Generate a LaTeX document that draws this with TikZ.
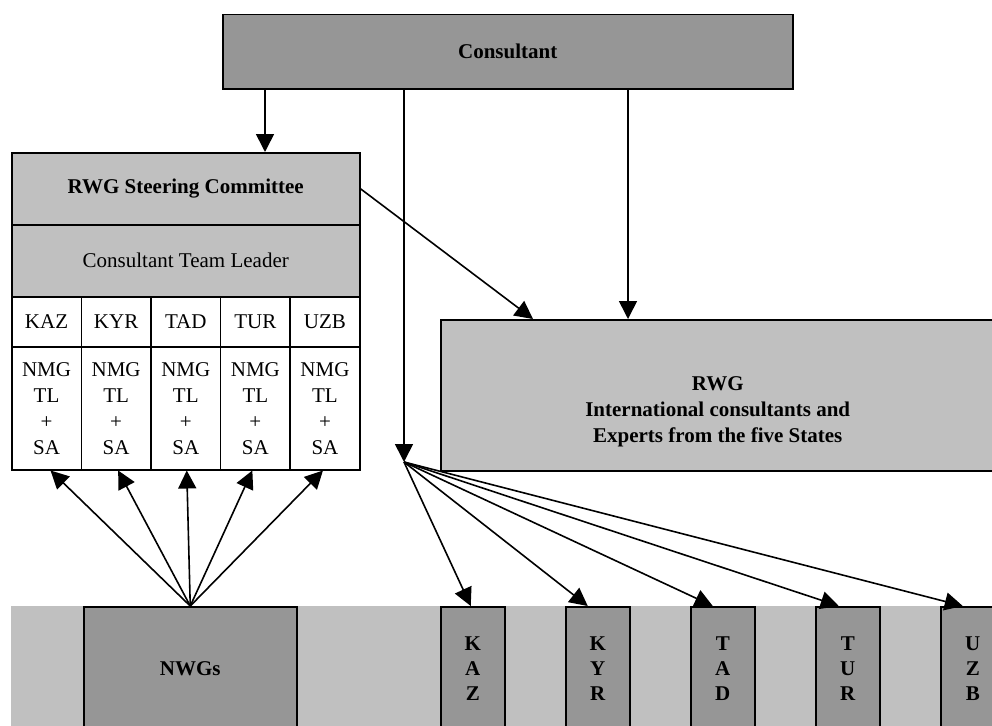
\documentclass[tikz,border=0pt]{standalone}
\usepackage{fontspec}
\setmainfont{Liberation Serif}
\usetikzlibrary{arrows.meta}

\definecolor{shadeDark}{RGB}{150,150,150}
\definecolor{shadeLight}{RGB}{192,192,192}

\tikzset{
  box/.style={draw=black, line width=1.5pt, inner sep=0pt, align=center,
              font=\fontsize{21}{26}\selectfont},
  darkbox/.style={box, fill=shadeDark},
  lightbox/.style={box, fill=shadeLight},
  cellbox/.style={box, fill=white},
  statebox/.style={darkbox, minimum width=64pt, minimum height=124pt,
                   anchor=north west, font=\fontsize{21}{25}\selectfont\bfseries},
  boldtext/.style={inner sep=0pt, align=center, font=\fontsize{21}{26}\selectfont\bfseries},
  arr/.style={line width=1.6pt, -{Triangle[length=18pt,width=18pt]}},
}

\begin{document}
\begin{tikzpicture}[x=1pt, y=-1pt]
  \useasboundingbox (0,0) rectangle (992,725);

  % top: consultant
  \node[darkbox, minimum width=570pt, minimum height=74pt, anchor=north west,
        font=\fontsize{21}{26}\selectfont\bfseries] (cons) at (222,14) {Consultant};

  % left block: steering committee and national teams
  \node[lightbox, minimum width=348pt, minimum height=72pt, anchor=north west,
        font=\fontsize{21}{26}\selectfont\bfseries] (steer) at (11,152) {RWG Steering Committee};
  \node[lightbox, minimum width=348pt, minimum height=72pt, anchor=north west] (lead) at (11,224) {Consultant Team Leader};

  \foreach \name [count=\i from 0] in {KAZ,KYR,TAD,TUR,UZB} {
    \node[cellbox, minimum width=69.6pt, minimum height=50pt, anchor=north west]
      (c\i) at (11+69.6*\i,296) {\name};
    \node[cellbox, minimum width=69.6pt, minimum height=123pt, anchor=north west]
      (n\i) at (11+69.6*\i,346) {NMG\\TL\\+\\SA};
  }

  % regional working group
  \node[lightbox, minimum width=554pt, minimum height=151pt, anchor=north west] (rwg) at (440,319) {};
  \node[boldtext] (rwgtext) at ([yshift=-17pt]rwg.center)
        {RWG\\International consultants and\\Experts from the five States};

  % bottom band with national working groups and the five states
  \node[fill=shadeLight, inner sep=0pt, minimum width=984pt, minimum height=124pt,
        anchor=north west] (band) at (11,606) {};
  \node[darkbox, minimum width=213pt, minimum height=124pt, anchor=north west,
        font=\fontsize{21}{26}\selectfont\bfseries] (nwg) at (83,606) {NWGs};

  \node[statebox] (kaz) at (440,606) {K\\A\\Z};
  \node[statebox] (kyr) at (565,606) {K\\Y\\R};
  \node[statebox] (tad) at (690,606) {T\\A\\D};
  \node[statebox] (tur) at (815,606) {T\\U\\R};
  \node[statebox] (uzb) at (940,606) {U\\Z\\B};

  \coordinate (hub) at (404,462);

  % connectors from the consultant
  \draw[arr] ([xshift=43pt]cons.south west) -- ([xshift=254pt]steer.north west);
  \draw[arr] ([xshift=182pt]cons.south west) -- (hub);
  \draw[arr] ([xshift=406pt]cons.south west) -- ([xshift=188pt]rwg.north west);

  % steering committee to RWG
  \draw[arr] (steer.east) -- ([xshift=93pt]rwg.north west);

  % fan out to the five states
  \draw[arr] (hub) -- ([xshift=-2pt]kaz.north);
  \draw[arr] (hub) -- ([xshift=-10pt]kyr.north);
  \draw[arr] (hub) -- ([xshift=-10pt]tad.north);
  \draw[arr] (hub) -- ([xshift=-9pt]tur.north);
  \draw[arr] (hub) -- ([xshift=-10pt]uzb.north);

  % NWGs up to the national teams
  \draw[arr] (nwg.north) -- ([xshift=4pt]n0.south);
  \draw[arr] (nwg.north) -- ([xshift=2pt]n1.south);
  \draw[arr] (nwg.north) -- ([xshift=1pt]n2.south);
  \draw[arr] (nwg.north) -- ([xshift=-3pt]n3.south);
  \draw[arr] (nwg.north) -- ([xshift=-2pt]n4.south);
\end{tikzpicture}
\end{document}
